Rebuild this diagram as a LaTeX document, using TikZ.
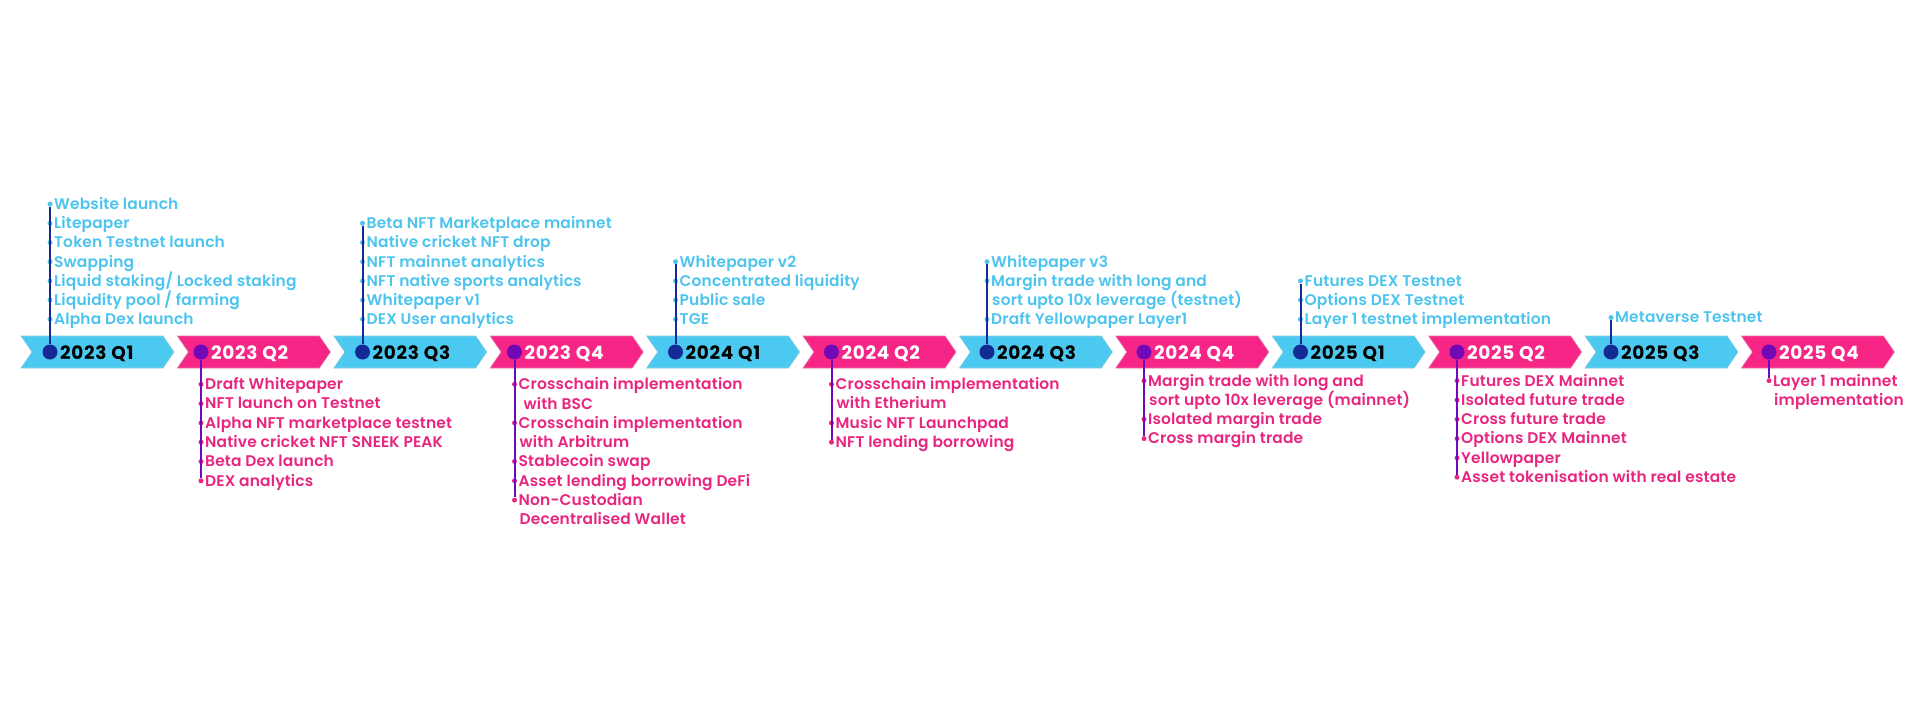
\documentclass[tikz,border=0pt]{standalone}
\usepackage{fontspec}
\IfFontExistsTF{Poppins SemiBold}{\newfontfamily\itemfont{Poppins SemiBold}[LetterSpace=1.0]}{%
  \IfFontExistsTF{Poppins Medium}{\newfontfamily\itemfont{Poppins Medium}[LetterSpace=2.5]}{\newfontfamily\itemfont{Poppins}[LetterSpace=2.5]}}
\newfontfamily\labfont{Poppins}[LetterSpace=4]
\definecolor{cblue}{HTML}{4CC9F0}
\definecolor{cpink}{HTML}{F72585}
\definecolor{tblue}{HTML}{4CC4EE}
\definecolor{tpink}{HTML}{E8267F}
\definecolor{navy}{HTML}{142A94}
\definecolor{purp}{HTML}{7209B7}
\newcommand\itm[5]{%
  \node[#4dot] (#1) at (#2,#3) {};
  \node[#4txt] (#1x) at (#2+4,#3+5.3) {#5};}
\newcommand\cnt[5]{%
  \node[#4txt] (#1x) at (#2+5,#3+5.3) {#5};}
\tikzset{
  lab/.style={anchor=base west,inner sep=0pt,font=\labfont\bfseries\fontsize{18.5}{20}\selectfont},
  navyc/.style={circle,fill=navy,minimum size=15bp,inner sep=0pt},
  purpc/.style={circle,fill=purp,minimum size=15bp,inner sep=0pt},
  tdot/.style={circle,fill=tblue,minimum size=5bp,inner sep=0pt},
  bdot/.style={circle,fill=tpink,minimum size=5bp,inner sep=0pt},
  ttxt/.style={anchor=base west,inner sep=0pt,text=tblue,font=\itemfont\fontsize{15.5}{18}\selectfont},
  btxt/.style={anchor=base west,inner sep=0pt,text=tpink,font=\itemfont\fontsize{15.5}{18}\selectfont},
  tline/.style={draw=navy,line width=2bp},
  bline/.style={draw=purp,line width=2bp},
}
\begin{document}
\begin{tikzpicture}[x=1bp,y=-1bp]
\useasboundingbox (0,0) rectangle (1920,720);
% chevrons
\foreach \i/\col in {0/cblue,1/cpink,2/cblue,3/cpink,4/cblue,5/cpink,6/cblue,7/cpink,8/cblue,9/cpink,10/cblue,11/cpink}{
  \pgfmathsetmacro\L{21+156.4*\i}
  \fill[\col,draw=\col!75!gray!70,line width=0.6bp] (\L,336) -- (\L+142,336) -- (\L+153,352) -- (\L+142,368) -- (\L,368) -- (\L+11,352) -- cycle;
}
% circles and labels
\node[navyc] (c1) at (50,352) {};    \node[lab,text=black] (l1) at (60,359) {2023 Q1};
\node[purpc] (c2) at (201,352) {};   \node[lab,text=white] (l2) at (211,359) {2023 Q2};
\node[navyc] (c3) at (362.5,352) {}; \node[lab,text=black] (l3) at (372.5,359) {2023 Q3};
\node[purpc] (c4) at (514.5,352) {}; \node[lab,text=white] (l4) at (524.5,359) {2023 Q4};
\node[navyc] (c5) at (675.5,352) {}; \node[lab,text=black] (l5) at (685.5,359) {2024 Q1};
\node[purpc] (c6) at (831.5,352) {}; \node[lab,text=white] (l6) at (841.5,359) {2024 Q2};
\node[navyc] (c7) at (987,352) {};   \node[lab,text=black] (l7) at (997,359) {2024 Q3};
\node[purpc] (c8) at (1144,352) {};  \node[lab,text=white] (l8) at (1154,359) {2024 Q4};
\node[navyc] (c9) at (1300.5,352) {};\node[lab,text=black] (l9) at (1310.5,359) {2025 Q1};
\node[purpc] (c10) at (1457,352) {}; \node[lab,text=white] (l10) at (1467,359) {2025 Q2};
\node[navyc] (c11) at (1611,352) {}; \node[lab,text=black] (l11) at (1621,359) {2025 Q3};
\node[purpc] (c12) at (1769,352) {}; \node[lab,text=white] (l12) at (1779,359) {2025 Q4};
% group 1
\itm{a1}{50}{204.1}{t}{Website launch}
\itm{a2}{50}{223.3}{t}{Litepaper}
\itm{a3}{50}{242.5}{t}{Token Testnet launch}
\itm{a4}{50}{261.7}{t}{Swapping}
\itm{a5}{50}{280.9}{t}{Liquid staking/ Locked staking}
\itm{a6}{50}{300.1}{t}{Liquidity pool / farming}
\itm{a7}{50}{319.3}{t}{Alpha Dex launch}
\draw[tline] (c1) -- (a1);
% group 2
\itm{b1}{201}{384.3}{b}{Draft Whitepaper}
\itm{b2}{201}{403.6}{b}{NFT launch on Testnet}
\itm{b3}{201}{422.9}{b}{Alpha NFT marketplace testnet}
\itm{b4}{201}{442.2}{b}{Native cricket NFT SNEEK PEAK}
\itm{b5}{201}{461.5}{b}{Beta Dex launch}
\itm{b6}{201}{480.8}{b}{DEX analytics}
\draw[bline] (c2) -- (b6);
% group 3
\itm{c3a}{362.5}{223.3}{t}{Beta NFT Marketplace mainnet}
\itm{c3b}{362.5}{242.5}{t}{Native cricket NFT drop}
\itm{c3c}{362.5}{261.7}{t}{NFT mainnet analytics}
\itm{c3d}{362.5}{280.9}{t}{NFT native sports analytics}
\itm{c3e}{362.5}{300.1}{t}{Whitepaper v1}
\itm{c3f}{362.5}{319.3}{t}{DEX User analytics}
\draw[tline] (c3) -- (c3a);
% group 4
\itm{d1}{514.5}{384.3}{b}{Crosschain implementation}
\node[btxt] (d1c) at (523.5,409.0) {with BSC};
\itm{d2}{514.5}{422.9}{b}{Crosschain implementation}
\cnt{d2c}{514.5}{442.2}{b}{with Arbitrum}
\itm{d3}{514.5}{461.5}{b}{Stablecoin swap}
\itm{d4}{514.5}{480.8}{b}{Asset lending borrowing DeFi}
\itm{d5}{514.5}{500.1}{b}{Non-Custodian}
\cnt{d5c}{514.5}{519.4}{b}{Decentralised Wallet}
\draw[bline] (c4) -- (d5);
% group 5
\itm{e1}{675.5}{261.7}{t}{Whitepaper v2}
\itm{e2}{675.5}{280.9}{t}{Concentrated liquidity}
\itm{e3}{675.5}{300.1}{t}{Public sale}
\itm{e4}{675.5}{319.3}{t}{TGE}
\draw[tline] (c5) -- (e1);
% group 6
\itm{f1}{831.5}{384.3}{b}{Crosschain implementation}
\cnt{f1c}{831.5}{403.6}{b}{with Etherium}
\itm{f2}{831.5}{422.9}{b}{Music NFT Launchpad}
\itm{f3}{831.5}{442.2}{b}{NFT lending borrowing}
\draw[bline] (c6) -- (f3);
% group 7
\itm{g1}{987}{261.7}{t}{Whitepaper v3}
\itm{g2}{987}{280.9}{t}{Margin trade with long and}
\cnt{g2c}{987}{300.1}{t}{sort upto 10x leverage (testnet)}
\itm{g3}{987}{319.3}{t}{Draft Yellowpaper Layer1}
\draw[tline] (c7) -- (g1);
% group 8
\itm{h1}{1144}{380.7}{b}{Margin trade with long and}
\cnt{h1c}{1144}{400.0}{b}{sort upto 10x leverage (mainnet)}
\itm{h2}{1144}{419.3}{b}{Isolated margin trade}
\itm{h3}{1144}{438.6}{b}{Cross margin trade}
\draw[bline] (c8) -- (h3);
% group 9
\itm{i1}{1300.5}{280.9}{t}{Futures DEX Testnet}
\itm{i2}{1300.5}{300.1}{t}{Options DEX Testnet}
\itm{i3}{1300.5}{319.3}{t}{Layer 1 testnet implementation}
\draw[tline] (c9) -- (i1);
% group 10
\itm{j1}{1457}{380.7}{b}{Futures DEX Mainnet}
\itm{j2}{1457}{400.0}{b}{Isolated future trade}
\itm{j3}{1457}{419.3}{b}{Cross future trade}
\itm{j4}{1457}{438.6}{b}{Options DEX Mainnet}
\itm{j5}{1457}{457.9}{b}{Yellowpaper}
\itm{j6}{1457}{477.2}{b}{Asset tokenisation with real estate}
\draw[bline] (c10) -- (j6);
% group 11
\itm{k1}{1611}{317.5}{t}{Metaverse Testnet}
\draw[tline] (c11) -- (k1);
% group 12
\itm{m1}{1769}{380.7}{b}{Layer 1 mainnet}
\cnt{m1c}{1769}{400.0}{b}{implementation}
\draw[bline] (c12) -- (m1);
\end{tikzpicture}
\end{document}
